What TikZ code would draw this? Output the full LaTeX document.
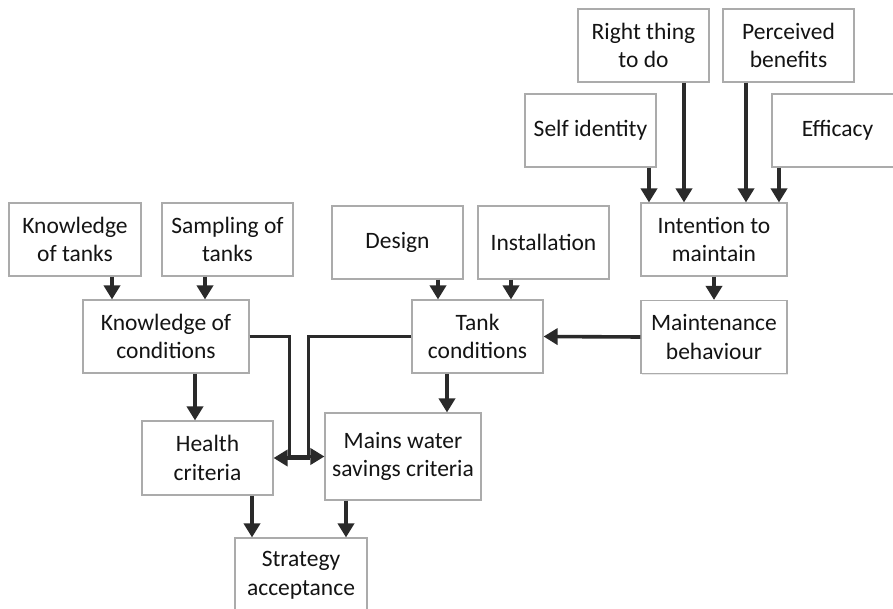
\documentclass[tikz,border=0pt]{standalone}
\usepackage{fontspec}
\setmainfont{Carlito}
\usetikzlibrary{arrows.meta,shadows}
\definecolor{boxline}{HTML}{ABABAB}
\definecolor{arrowcol}{HTML}{2A2A2A}
\definecolor{txt}{HTML}{141414}
\begin{document}
\begin{tikzpicture}[x=1pt,y=-1pt,
  box/.style={draw=boxline, line width=1.1pt, fill=white, inner sep=0pt, align=center,
    text=txt, font=\fontsize{23.5}{28.7}\selectfont,
    drop shadow={shadow xshift=1.2pt, shadow yshift=-1.2pt, opacity=0.18}},
  arr/.style={draw=arrowcol, line width=3.6pt, -{Triangle[length=14pt,width=16pt]}}
]
\useasboundingbox (0,0) rectangle (893,609);
% top-right cluster
\node[box, minimum width=131pt, minimum height=73pt] (rt) at (643.5,45.5) {Right thing\\to do};
\node[box, minimum width=131pt, minimum height=73pt] (pb) at (788.5,45.5) {Perceived\\benefits};
\node[box, minimum width=131pt, minimum height=73pt] (si) at (590.5,130.5) {Self identity};
\node[box, minimum width=131pt, minimum height=73pt] (ef) at (837.5,130.5) {Efficacy};
\node[box, minimum width=146pt, minimum height=73pt] (itm) at (714,239.5) {Intention to\\maintain};
\node[box, minimum width=146pt, minimum height=73pt] (mb) at (714,337) {Maintenance\\behaviour};
% middle
\node[box, minimum width=131pt, minimum height=73pt] (des) at (397.5,242.5) {Design};
\node[box, minimum width=131pt, minimum height=73pt] (ins) at (543.5,242.5) {Installation};
\node[box, minimum width=131pt, minimum height=73pt] (tc) at (477.5,336.5) {Tank\\conditions};
% left
\node[box, minimum width=132pt, minimum height=73pt] (kt) at (75,239.5) {Knowledge\\of tanks};
\node[box, minimum width=131pt, minimum height=73pt] (st) at (227.5,239.5) {Sampling of\\tanks};
\node[box, minimum width=166pt, minimum height=73pt] (koc) at (166,336.5) {Knowledge of\\conditions};
% bottom
\node[box, minimum width=131pt, minimum height=74pt] (hc) at (207.5,458) {Health\\criteria};
\node[box, minimum width=156pt, minimum height=87pt] (mw) at (403,456.5) {Mains water\\savings criteria};
\node[box, minimum width=132pt, minimum height=74pt] (sa) at (301,575) {Strategy\\acceptance};
% arrows
\draw[arr] ([xshift=58.5pt]si.south) -- ([xshift=-65pt]itm.north);
\draw[arr] ([xshift=40.5pt]rt.south) -- ([xshift=-30pt]itm.north);
\draw[arr] ([xshift=-42.5pt]pb.south) -- ([xshift=32pt]itm.north);
\draw[arr] ([xshift=-58.5pt]ef.south) -- ([xshift=65pt]itm.north);
\draw[arr] (itm.south) -- (mb.north);
\draw[arr] (mb.west) -- (tc.east);
\draw[arr] ([xshift=40.5pt]des.south) -- ([xshift=-39.5pt]tc.north);
\draw[arr] ([xshift=-32.5pt]ins.south) -- ([xshift=33.5pt]tc.north);
\draw[arr] ([xshift=-30.5pt]tc.south) -- ([xshift=44pt]mw.north);
\draw[arr] ([xshift=37pt]kt.south) -- ([xshift=-54pt]koc.north);
\draw[arr] ([xshift=-22.5pt]st.south) -- ([xshift=39pt]koc.north);
\draw[arr] ([xshift=29pt]koc.south) -- ([xshift=-12.5pt]hc.north);
\draw[arr] (koc.east) -- ++(40,0) |- (mw.west);
\draw[arr] (tc.west) -- ++(-103,0) |- (hc.east);
\draw[arr] ([xshift=44.5pt]hc.south) -- ([xshift=-49pt]sa.north);
\draw[arr] ([xshift=-57pt]mw.south) -- ([xshift=45pt]sa.north);
\end{tikzpicture}
\end{document}
